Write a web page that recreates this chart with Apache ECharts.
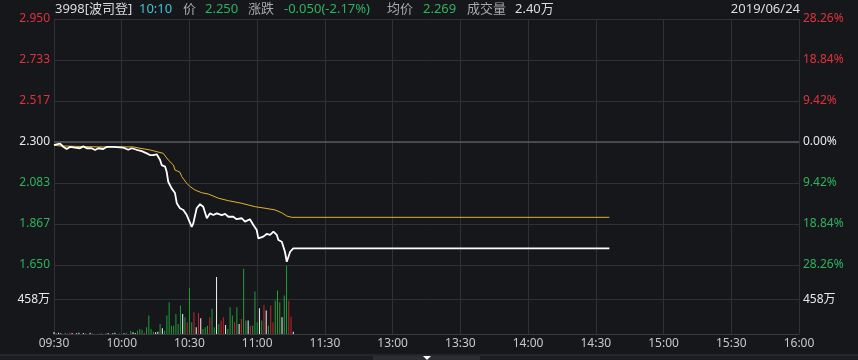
<!DOCTYPE html>
<html><head><meta charset="utf-8">
<script src="https://cdn.jsdelivr.net/npm/echarts/dist/echarts.min.js"></script>
<style>html,body{margin:0;padding:0;background:#16171b;}#c{width:858px;height:360px;}</style>
</head><body><div id="c"></div>
<script>
// ---- data ----
const timeLabels = ['09:30','10:00','10:30','11:00','11:30','13:00','13:30','14:00','14:30','15:00','15:30','16:00'];
const prevClose = 2.300;
const priceMin = 1.650, priceMax = 2.950;
const volMax = 916, volStep = 458;
const header = {code:'3998[波司登]', time:'10:10', price:'2.250', change:'-0.050(-2.17%)', avg:'2.269', volume:'2.40万', date:'2019/06/24'};

const priceX = [0,1.2,2.7,4.1,5.6,7.1,9.3,11.5,13,14.5,16.7,18.2,19.6,21.8,23.3,26.3,29.2,30.7,32.9,34.4,36.6,38.9,41.1,42.5,44,45.5,47,47.7,49.2,49.9,50.6,52.1,53.6,54.4,55.8,57.3,58.8,59.5,61,61.7,63.2,64.7,66.1,67.7,69.1,70.6,72.1,74.3,75.8,77.2,79.4,80.9,83.2,84.6,86.8,88.3,89.8,90.5,92.7,94.2,95.7,97.2,98.7,99.4,100.9,102.3,103.1,104.6,106,246];
const priceY = [2.284,2.288,2.291,2.275,2.263,2.274,2.270,2.267,2.277,2.267,2.267,2.258,2.267,2.263,2.274,2.274,2.272,2.270,2.259,2.267,2.259,2.252,2.240,2.231,2.231,2.235,2.205,2.178,2.170,2.143,2.090,2.055,2.030,1.976,1.950,1.941,1.914,1.923,1.852,1.870,1.950,1.972,1.958,1.897,1.923,1.914,1.923,1.914,1.920,1.905,1.905,1.892,1.897,1.879,1.892,1.861,1.835,1.791,1.800,1.814,1.809,1.826,1.809,1.782,1.773,1.720,1.667,1.720,1.738,1.738];
const avgX = [0,2.7,20,35,38.1,42.5,45.5,48.4,50.6,52.9,53.6,55.8,56.6,58.8,60.3,62.5,65.4,68.4,72.8,77.2,83.2,89.1,93.5,97.9,100.9,103.1,105.3,246];
const avgY = [2.284,2.279,2.274,2.274,2.267,2.258,2.249,2.240,2.205,2.178,2.152,2.140,2.117,2.082,2.064,2.046,2.032,2.025,2.003,1.990,1.976,1.958,1.950,1.941,1.926,1.909,1.902,1.902];

const volumes = [28,12,18,10,0,15,8,20,12,0,10,18,0,14,9,0,16,10,0,0,8,10,0,12,14,0,9,16,0,8,
  0,10,15,0,44,22,13,44,67,58,20,89,245,67,30,22,31,133,76,44,245,422,111,
  111,267,133,378,267,222,156,609,156,289,89,280,209,67,89,111,222,334,89,756,133,178,222,120,67,356,245,156,356,133,200,867,178,178,111,111,565,156,342,178,387,311,111,378,156,445,578,422,222,511,905,440,230,31];
// 1 = up (red), -1 = down (green), 0 = flat (white)
const volDirs = [0,1,0,0,0,-1,1,1,0,0,0,0,0,0,-1,0,0,1,0,0,1,-1,0,1,0,0,0,0,0,-1,
  0,0,-1,0,-1,0,0,-1,-1,-1,1,-1,-1,-1,-1,0,0,-1,0,-1,-1,-1,-1,
  -1,-1,-1,-1,0,-1,1,-1,-1,1,0,1,0,-1,-1,-1,1,-1,-1,0,-1,1,1,0,-1,-1,-1,1,-1,0,1,-1,-1,0,1,-1,-1,-1,0,-1,1,0,-1,1,1,-1,-1,-1,0,-1,-1,1,1,0];

// ---- styles ----
const FONT = '"Noto Sans","Noto Sans CJK SC",sans-serif';
const RED = '#e0323c', GREEN = '#2db35d', WHITE = '#e8e8e8', GRAY = '#a8a8a8', CYAN = '#3fc4d2';
const GRIDC = '#303137';
const BAR = {1:'#c8232c', '-1':'#1f9e3a', 0:'#f2f2f2'};
const step = (priceMax - prevClose) / 3;

function priceColor(v){ v = parseFloat(v); return v > prevClose + 1e-4 ? RED : (v < prevClose - 1e-4 ? GREEN : WHITE); }

const chart = echarts.init(document.getElementById('c'), null, {renderer:'canvas'});
const hdr = (l, t, txt, col) => ({type:'text', left:l, top:t, style:{text:txt, fill:col, font:'13px ' + FONT}});

chart.setOption({
  backgroundColor:'#16171b',
  animation:false,
  textStyle:{fontFamily:FONT},
  grid:[
    {left:54, right:59, top:19, height:246},
    {left:54, right:59, top:265, height:69}
  ],
  xAxis:[
    {gridIndex:0, type:'value', min:0, max:330, interval:30,
     axisLine:{show:false}, axisTick:{show:false}, axisLabel:{show:false},
     splitLine:{show:true, lineStyle:{color:GRIDC, width:1}}},
    {gridIndex:1, type:'value', min:0, max:330, interval:30,
     axisLine:{show:true, lineStyle:{color:'#3a3b41'}}, axisTick:{show:false},
     axisLabel:{color:'#c8c8c8', fontSize:12, margin:4, fontFamily:FONT,
       formatter:v => timeLabels[Math.round(v/30)] || ''},
     splitLine:{show:true, lineStyle:{color:GRIDC, width:1}}}
  ],
  yAxis:[
    {gridIndex:0, type:'value', position:'left', min:priceMin, max:priceMax, interval:step,
     axisLine:{show:false}, axisTick:{show:false},
     axisLabel:{fontSize:12, margin:4, fontFamily:FONT, formatter:v => v.toFixed(3), color:priceColor},
     splitLine:{show:true, lineStyle:{color:GRIDC, width:1}}},
    {gridIndex:0, type:'value', position:'right', min:priceMin, max:priceMax, interval:step,
     axisLine:{show:false}, axisTick:{show:false}, splitLine:{show:false},
     axisLabel:{fontSize:12, margin:4, fontFamily:FONT,
       formatter:v => (Math.abs(v - prevClose)/prevClose*100).toFixed(2) + '%', color:priceColor}},
    {gridIndex:1, type:'value', position:'left', min:0, max:volMax, interval:volStep,
     axisLine:{show:false}, axisTick:{show:false},
     axisLabel:{fontSize:12, margin:4, color:WHITE, fontFamily:FONT, formatter:v => v === volStep ? volStep + '万' : ''},
     splitLine:{show:true, lineStyle:{color:GRIDC, width:1}}},
    {gridIndex:1, type:'value', position:'right', min:0, max:volMax, interval:volStep,
     axisLine:{show:false}, axisTick:{show:false}, splitLine:{show:false},
     axisLabel:{fontSize:12, margin:4, color:WHITE, fontFamily:FONT, formatter:v => v === volStep ? volStep + '万' : ''}}
  ],
  series:[
    {type:'line', xAxisIndex:0, yAxisIndex:0, symbol:'none', z:3,
     lineStyle:{color:'#e2b42a', width:1}, data:avgX.map((x,i)=>[x, avgY[i]]),
     markLine:{silent:true, symbol:'none', label:{show:false},
       lineStyle:{color:'#56575c', width:1.5, type:'solid'}, data:[{yAxis:prevClose}]}},
    {type:'line', xAxisIndex:0, yAxisIndex:0, symbol:'none', z:4,
     lineStyle:{color:'#ffffff', width:1.8}, data:priceX.map((x,i)=>[x, priceY[i]])},
    {type:'bar', xAxisIndex:1, yAxisIndex:2, barWidth:1,
     data:volumes.map((v,i)=>({value:[i, v], itemStyle:{color:BAR[volDirs[i]]}}))}
  ],
  graphic:[
    hdr(55, 3, header.code, '#dcdcdc'),
    hdr(139, 3, header.time, CYAN),
    hdr(183, 3, '价', GRAY),
    hdr(205, 3, header.price, GREEN),
    hdr(248, 3, '涨跌', GRAY),
    hdr(284, 3, header.change, GREEN),
    hdr(387, 3, '均价', GRAY),
    hdr(423, 3, header.avg, GREEN),
    hdr(467, 3, '成交量', GRAY),
    hdr(515, 3, header.volume, '#dcdcdc'),
    {type:'text', right:58, top:3, style:{text:header.date, fill:'#dcdcdc', font:'13px ' + FONT}},
    {type:'rect', left:0, top:355, shape:{width:858, height:5}, style:{fill:'#1c1d22'}},
    {type:'line', shape:{x1:0, y1:355, x2:858, y2:355}, style:{stroke:'#303137', lineWidth:1}},
    {type:'rect', left:373, top:356, shape:{width:107, height:4}, style:{fill:'#2c2d32'}},
    {type:'polygon', shape:{points:[[423,356],[431,356],[427,360]]}, style:{fill:'#ffffff'}}
  ]
});
</script></body></html>
